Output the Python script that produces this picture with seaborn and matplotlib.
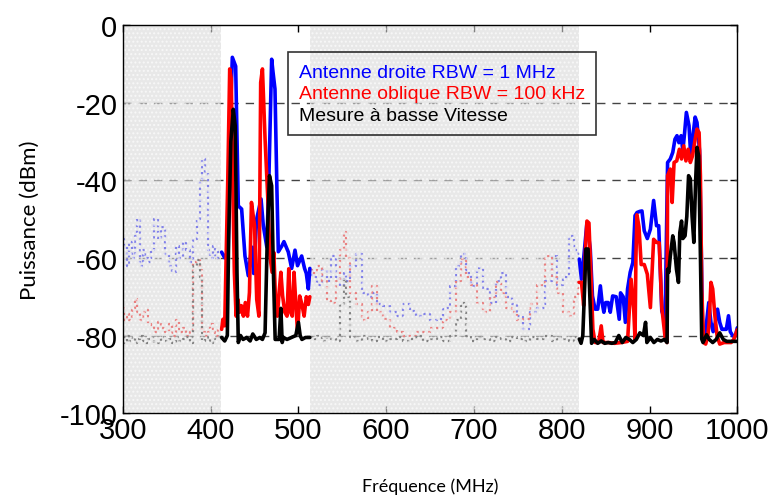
import numpy as np
import pandas as pd
import matplotlib
matplotlib.use('Agg')
import matplotlib.pyplot as plt
import seaborn as sns

sns.set_style('ticks')
plt.rcParams['font.family'] = ['Liberation Sans', 'DejaVu Sans']
plt.rcParams['axes.unicode_minus'] = False

# bandes grisées (zones masquées)
gray_bands = [(300, 412), (513, 820)]

# --- zones visibles : 412-513 MHz ---
f_b1 = [412.5, 416, 420, 423, 424.7, 428.5, 431.5, 435.3, 439.1, 442.9, 446.7, 449, 452.4,
        457.4, 460, 464, 466.5, 469.5, 471, 473.3, 475.5, 477.1, 480.9, 483.5, 488.5,
        492.3, 496.1, 499, 503.7, 507, 509, 511.3, 513]
v_b1 = [-58.5, -60, -58, -20, -8.3, -10.6, -46.6, -47.4, -59.5, -64.6, -57.2, -64, -50,
        -44.8, -51.7, -57.2, -38, -8.8, -12, -16.5, -42.3, -58.4, -57, -55.8, -58.5,
        -62.7, -58, -62, -59.5, -62.7, -64, -68, -62.7]

f_r1 = [412.5, 414, 416, 419.5, 421.7, 423.5, 425, 427, 429, 431, 433, 435, 437.3, 439.5,
        442, 444.2, 446.5, 450, 452.5, 455, 457, 459, 462, 465.5, 467.5, 470, 472, 474,
        476, 478, 480, 482, 484.5, 487, 489, 491, 493, 495, 497, 499, 501.5, 504, 506.5,
        509, 511.3, 513]
v_r1 = [-78.4, -75.8, -77.5, -40, -11.3, -13.9, -38, -63.7, -75, -70.7, -74, -72.3, -75,
        -71.5, -75, -68.9, -45.7, -51.7, -70.7, -75, -14.8, -11.3, -29.4, -46.6, -59.5,
        -63.7, -58.6, -71.5, -75, -68.9, -63.7, -69.8, -74, -75, -62.8, -74, -75, -63.7,
        -71.5, -79.2, -69.8, -72, -75, -70, -72, -70]

f_k1 = [412.5, 416, 419, 420.5, 423, 425.8, 428, 430, 431.5, 434, 437, 441, 445, 448,
        452, 456, 459, 462, 464.5, 467, 469.5, 471.5, 473.5, 475, 478, 480, 481.5, 483,
        487, 492, 497, 500, 502, 504, 508, 513]
v_k1 = [-80.5, -81.4, -80, -55, -30, -21.7, -26, -63.7, -81.8, -80, -81, -80.5, -81.4,
        -79.6, -81, -80.5, -81, -79.3, -55, -38.8, -41.4, -63.7, -81, -81, -81, -73,
        -81.8, -80.5, -81, -80.5, -80, -76.6, -80, -81, -80.5, -80.5]

# --- zones visibles : 820-1000 MHz ---
f_b2 = [820, 822.5, 825, 828.7, 832.5, 835, 838, 841, 844, 846, 848, 850, 853, 855.3,
        858, 862, 865.5, 867, 870, 872.5, 875, 878, 881, 883.5, 885.7, 889, 891.4, 894,
        897.5, 901, 904.7, 908, 910.5, 914, 917.8, 920.6, 923.7, 926.5, 929, 931.3,
        933.5, 936, 938, 940, 942, 945, 947, 949, 952, 954.1, 957, 958.5, 960.5, 962.5,
        965, 967.5, 970, 972.5, 975, 977.5, 980, 982.5, 985, 987.5, 990, 992, 995, 998,
        1000]
v_b2 = [-60.3, -65.5, -60, -51, -57.7, -69.8, -73.2, -73.2, -67.2, -71.5, -74, -71.5,
        -71.5, -74, -69.8, -70, -75.8, -69, -70, -76.6, -68, -63.7, -61.2, -49.1, -48.3,
        -48, -47.9, -53, -55, -52.6, -45.2, -51.7, -51.7, -73.7, -76, -35.4, -34.5,
        -32.8, -29.4, -28.5, -30.3, -28.5, -32.4, -27.7, -22.5, -25.9, -33.7, -29.4,
        -23.7, -25.1, -32.4, -50.9, -80.1, -81.8, -76.6, -71.5, -76.6, -79, -76.6,
        -73.2, -76.6, -78.4, -78.4, -78.4, -74.9, -79, -80.1, -80, -78]

f_r2 = [820, 822.5, 825, 827, 828.7, 831, 833, 835.5, 838, 842, 845, 847, 849, 853, 860,
        868, 875, 879, 882, 883.5, 884.5, 885.7, 888, 890.5, 894, 897.5, 901, 904.7,
        908, 911, 914, 917.8, 919.9, 920.6, 923.7, 925.8, 928, 931, 934, 936.5, 939,
        941.5, 944, 946.5, 949, 952, 954.1, 956.5, 958, 959.5, 961.7, 964, 966.5, 968,
        970, 972, 974.5, 977, 980, 985, 990, 993, 996, 1000]
v_r2 = [-66.3, -66.3, -72.3, -57.7, -50.5, -51, -62.9, -78.4, -81.8, -81.8, -77.5, -81.8,
        -81.8, -81.8, -82, -81.8, -81.5, -65.5, -73.2, -81, -60, -48.9, -52, -61.7, -61.7,
        -64.2, -72.8, -55.2, -56, -56.1, -72.8, -80.5, -81.8, -38.8, -37.1, -45.7, -35.4,
        -35, -32, -34.5, -31.1, -35, -32, -35.4, -33.7, -29.4, -26.8, -27.7, -38.8, -68,
        -81.8, -82.2, -80, -76.6, -66.3, -68, -74.9, -80.1, -82.2, -81.8, -81.8, -81.8,
        -81, -78.5]

f_k2 = [820, 822, 824, 826, 827.5, 830, 832, 834, 837, 841, 845, 849, 853, 857, 861, 865,
        869, 873, 877, 881, 885, 889, 893, 895.5, 897, 901, 905, 909, 913, 917, 920,
        920.6, 922, 923.7, 926.5, 928, 930.7, 933, 934.5, 936.5, 938, 940.5, 942.5, 944.5,
        946.5, 948.5, 950.5, 952.5, 954.1, 956, 958, 959.5, 961, 965, 968, 972, 976, 980,
        984, 988, 992, 996, 1000]
v_k2 = [-80.9, -82, -80, -68, -57.7, -57.7, -69.8, -82, -81, -82, -81.4, -82, -81.8, -82,
        -81.8, -80, -81.8, -80.5, -81, -81.8, -81, -79.3, -80, -76.6, -81.8, -80.5, -81.8,
        -81, -81.4, -81, -81.8, -62.9, -63.7, -59.5, -54.3, -56, -62.9, -66.3, -53.5,
        -50.5, -55, -54.3, -49.3, -38.8, -39.6, -49.3, -56, -40.5, -31.5, -33.7, -59.5,
        -80.9, -81.8, -79.8, -81, -81.8, -81, -79.3, -81, -81.5, -81.5, -81.5, -81.5]

# --- zones masquées (données en pointillé) ---
f_g1 = [300, 303, 306, 309, 312, 315, 318, 321, 324, 327, 330, 334, 338, 342, 346, 350,
        354, 358, 362, 366, 370, 374, 378, 382, 386, 389, 392, 395, 398, 401, 404, 407,
        410, 412]
v_g1_b = [-55, -57, -62, -56, -60, -54.3, -50, -62, -58, -60, -61, -58, -50, -55, -52,
          -59, -62, -63.7, -57, -60, -56, -58, -61, -55, -50, -40, -34.5, -38, -58, -60,
          -57, -60, -58.5, -58.5]
v_g1_r = [-73, -76, -74.5, -76, -73.5, -70.7, -74, -76, -74, -73.5, -77, -77.2, -79,
          -76.5, -78, -79, -77, -80, -76, -79, -78, -80, -79, -61, -60.6, -63, -79, -80,
          -79, -77, -79, -80, -78.4, -78.4]
v_g1_k = [-80.5, -81.8, -80.2, -81.5, -80.5, -81.8, -81, -80.2, -81.5, -82, -81, -80.5,
          -81.8, -82, -80.5, -81.5, -81, -82, -80.5, -81.5, -81, -80.5, -82, -62, -60.6,
          -65, -81.5, -81, -80.5, -81.8, -81, -80.5, -80.5, -80.5]

f_g2 = [513, 518, 524.6, 530, 535, 539.8, 545, 550, 553, 556, 562, 570, 576, 582, 586,
        592, 600, 608, 615.7, 623, 631, 638, 646, 654, 661, 669, 676.5, 683, 688, 694,
        700, 706.8, 714, 722, 728, 733, 740, 746, 752, 760, 768, 776, 785, 792, 798, 805,
        812, 817, 820]
v_g2_b = [-63, -65, -67, -63, -66, -59.5, -65, -67.2, -64, -66, -62, -59, -69, -70, -69,
          -72, -72.3, -74, -75, -72, -73.6, -75, -74.5, -76, -75.8, -73, -67.2, -62,
          -59, -64, -67.2, -62.5, -68, -71.5, -66, -64, -70, -72, -75, -78.4, -74, -73,
          -66, -59.5, -67, -65, -54.3, -58, -60]
v_g2_r = [-63, -64, -62, -66, -71, -71.5, -66, -58, -53.4, -60, -69, -72, -76, -74,
          -67.2, -74, -75.8, -78, -79, -80.1, -80.1, -79, -79, -78, -78, -76, -74, -66,
          -60.3, -65, -67, -71.5, -74, -70, -66.3, -69, -73, -74, -76, -75.8, -72, -67,
          -59.5, -65, -69, -74, -75, -70, -66]
v_g2_k = [-80.5, -81, -80.2, -81.5, -80.5, -81, -81.5, -72, -65.5, -70, -80.5, -81.5,
          -80.2, -81, -81.5, -80.5, -81.5, -81, -80.5, -81.5, -81, -80.2, -81.5, -81,
          -80.5, -81.5, -80, -76, -71.5, -80, -81.5, -80.5, -81, -81.5, -80.5, -81,
          -81.5, -80.5, -81, -81.5, -80.5, -81, -80, -81.5, -80.5, -81, -81.5, -80.5,
          -81]

labels = ['Antenne droite RBW = 1 MHz', 'Antenne oblique RBW = 100 kHz',
          'Mesure à basse Vitesse']
colors = ['#0000ff', '#ff0000', '#000000']

fig = plt.figure(figsize=(7.68, 5.02), dpi=100)
ax = fig.add_axes([0.160, 0.175, 0.800, 0.773])

# grille pointillée
for yv in [-20, -40, -60, -80]:
    ax.axhline(yv, color='#444444', lw=1.0, dashes=(6, 5), zorder=1)

# données dans les zones grisées
for f, vals in [(f_g1, (v_g1_b, v_g1_r, v_g1_k)), (f_g2, (v_g2_b, v_g2_r, v_g2_k))]:
    for v, c in zip(vals, colors):
        d = pd.DataFrame({'f': f, 'v': v})
        sns.lineplot(data=d, x='f', y='v', ax=ax, color=c, lw=1.6, ls=':',
                     drawstyle='steps-mid', estimator=None, zorder=2)

for lo, hi in gray_bands:
    ax.axvspan(lo, hi, facecolor='#d9d9d9', edgecolor='white', hatch='....',
               lw=0, alpha=0.6, zorder=3)

# courbes visibles
series = [((f_b1, v_b1), (f_b2, v_b2)), ((f_r1, v_r1), (f_r2, v_r2)),
          ((f_k1, v_k1), (f_k2, v_k2))]
zs = [4, 5, 6]
for segs, c, lab, z in zip(series, colors, labels, zs):
    for i, (f, v) in enumerate(segs):
        d = pd.DataFrame({'f': f, 'v': v})
        sns.lineplot(data=d, x='f', y='v', ax=ax, color=c, lw=2.6, estimator=None,
                     label=lab if i == 0 else None, zorder=z)

ax.set_xlim(300, 1000)
ax.set_ylim(-100, 0)
ax.set_xticks(np.arange(300, 1001, 100))
ax.set_yticks(np.arange(-100, 1, 20))
ax.tick_params(direction='in', length=5, width=1, top=True, right=True,
               labelsize=21, pad=2, colors='black')
ax.tick_params(axis='y', pad=4)
for sp in ax.spines.values():
    sp.set_linewidth(1.0)
    sp.set_color('black')
    sp.set_zorder(7)

ax.set_xlabel('Fréquence (MHz)', fontsize=13, family=['Lato', 'DejaVu Sans'],
              labelpad=24, color='black')
ax.set_ylabel('Puissance (dBm)', fontsize=16, family=['Lato', 'DejaVu Sans'],
              labelpad=14, color='black')

leg = ax.legend(loc='upper left', bbox_to_anchor=(0.2687, 0.930), handlelength=0,
                handletextpad=0, frameon=True, fancybox=False, borderaxespad=0,
                borderpad=0.55, labelspacing=0.22,
                prop={'family': ['Liberation Sans', 'DejaVu Sans'], 'size': 14})
leg.get_frame().set_facecolor('none')
leg.get_frame().set_edgecolor('black')
leg.get_frame().set_linewidth(1.2)
leg.set_zorder(8)
for txt, c in zip(leg.get_texts(), colors):
    txt.set_color(c)
for h in leg.legend_handles:
    h.set_visible(False)

fig.savefig('out.png', dpi=100)
